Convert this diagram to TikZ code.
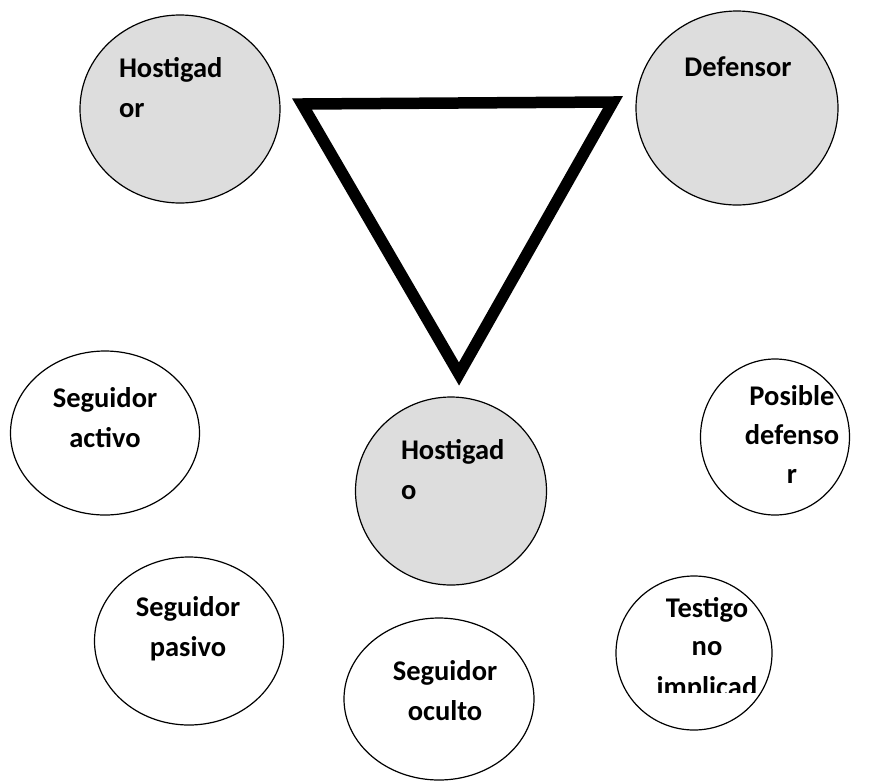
\documentclass[tikz,border=0pt]{standalone}
\usepackage{fontspec}
\setmainfont{Carlito}
\usetikzlibrary{shapes.geometric}
\definecolor{shade}{RGB}{221,221,221}
\tikzset{
  bubble/.style={ellipse, draw=black, line width=1.2pt, inner sep=0pt},
  grayb/.style={bubble, fill=shade},
  whiteb/.style={bubble, fill=white},
  lbl/.style={font=\fontsize{28.5}{40}\selectfont\bfseries, inner sep=0pt, outer sep=0pt},
}
\begin{document}
\begin{tikzpicture}[x=1pt,y=-1pt]
\useasboundingbox (0,0) rectangle (879,780);
% ellipses
\node[grayb, minimum width=200pt, minimum height=188pt] (hor) at (180,109) {};
\node[grayb, minimum width=202pt, minimum height=194pt] (def) at (737,108) {};
\node[whiteb, minimum width=189pt, minimum height=164pt] (sa) at (105,433) {};
\node[grayb, minimum width=191pt, minimum height=188pt] (hdo) at (451,491) {};
\node[whiteb, minimum width=149pt, minimum height=156pt] (pd) at (775,437) {};
\node[whiteb, minimum width=189pt, minimum height=168pt] (sp) at (189,641) {};
\node[whiteb, minimum width=190pt, minimum height=162pt] (so) at (439,699) {};
\node[whiteb, minimum width=156pt, minimum height=154pt] (tn) at (694,653) {};
% triangle
\coordinate (t1) at (302,104);
\coordinate (t2) at (613,102);
\coordinate (t3) at (459,374);
\draw[line width=11.5pt, line join=miter] (t1) -- (t2) -- (t3) -- cycle;
% labels
\node[lbl, anchor=base west] (hor1) at (119,77) {Hostigad};
\node[lbl, anchor=base west] (hor2) at (119,117) {or};
\node[lbl, anchor=base] (def1) at (738,76) {Defensor};
\node[lbl, anchor=base] (sa1) at (105,407) {Seguidor};
\node[lbl, anchor=base] (sa2) at (105,447) {activo};
\node[lbl, anchor=base west] (hdo1) at (401,459) {Hostigad};
\node[lbl, anchor=base west] (hdo2) at (401,499) {o};
\node[lbl, anchor=base] (pd1) at (792,405) {Posible};
\node[lbl, anchor=base] (pd2) at (792,444) {defenso};
\node[lbl, anchor=base] (pd3) at (792,483) {r};
\node[lbl, anchor=base] (sp1) at (188,616) {Seguidor};
\node[lbl, anchor=base] (sp2) at (188,656) {pasivo};
\node[lbl, anchor=base] (so1) at (445,680) {Seguidor};
\node[lbl, anchor=base] (so2) at (445,720) {oculto};
\node[lbl, anchor=base] (tn1) at (707,617) {Testigo};
\node[lbl, anchor=base] (tn2) at (707,655) {no};
\begin{scope}
\clip (600,600) rectangle (800,692);
\node[lbl, anchor=base] (tn3) at (707,696) {implicad};
\end{scope}
\end{tikzpicture}
\end{document}
